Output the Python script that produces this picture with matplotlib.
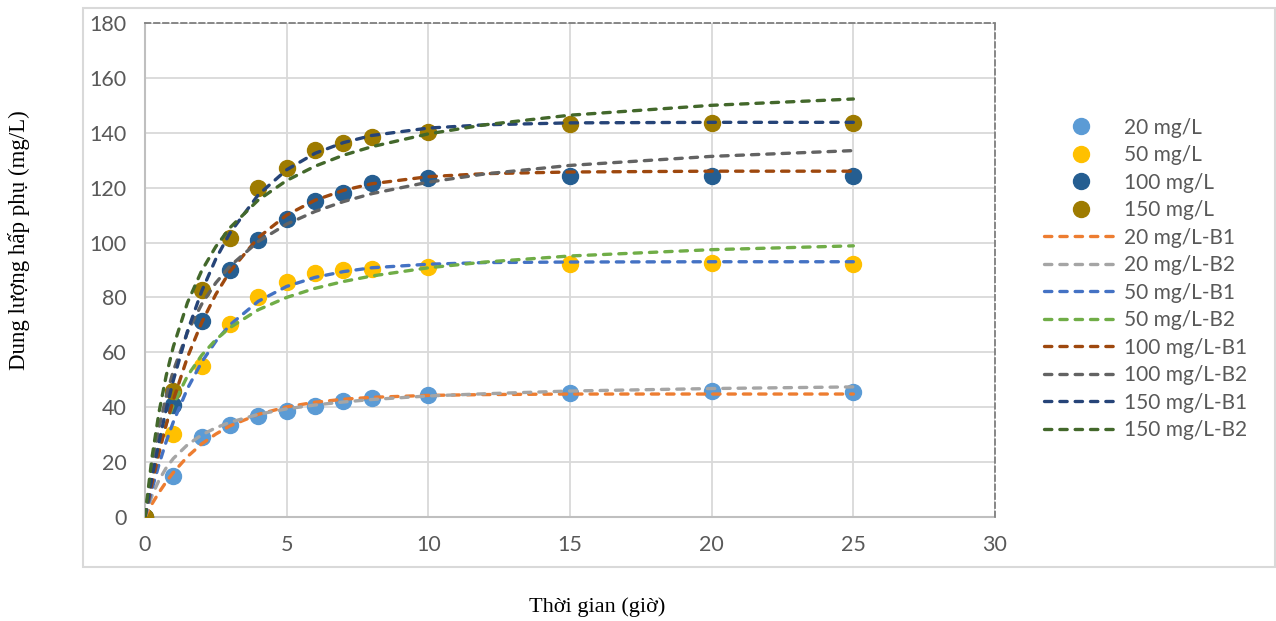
import matplotlib.pyplot as plt
from matplotlib.patches import Rectangle

# measured points
t_obs = [0, 1, 2, 3, 4, 5, 6, 7, 8, 10, 15, 20, 25]
q_20 = [0, 15.0, 29.0, 33.5, 36.8, 38.6, 40.5, 42.3, 43.4, 44.5, 45.2, 45.9, 45.6]
q_50 = [0, 30.2, 55.0, 70.3, 80.2, 85.6, 88.9, 90.0, 90.4, 91.1, 92.2, 92.6, 92.2]
q_100 = [0, 40.8, 71.4, 90.0, 101.0, 108.6, 115.2, 118.0, 121.7, 123.5, 124.3, 124.3, 124.3]
q_150 = [0, 46.0, 82.7, 101.7, 120.0, 127.2, 133.7, 136.3, 138.5, 140.3, 143.2, 143.6, 143.6]

# model curves
t_fit = [0, 0.25, 0.5, 0.75, 1, 1.5, 2, 2.5, 3, 4, 5, 6, 7, 8, 10, 12, 15, 20, 25]
b1_20 = [0, 4.8, 9.0, 12.8, 16.2, 22.0, 26.6, 30.2, 33.2, 37.4, 40.1, 41.8, 42.9, 43.6, 44.3, 44.6, 44.8, 44.8, 44.8]
b2_20 = [0, 7.8, 13.5, 17.9, 21.3, 26.3, 29.9, 32.5, 34.5, 37.4, 39.4, 40.8, 41.9, 42.8, 44.1, 44.9, 45.9, 46.8, 47.4]
b1_50 = [0, 10.2, 19.3, 27.5, 34.6, 46.8, 56.4, 64.0, 70.0, 78.6, 84.0, 87.3, 89.4, 90.8, 92.1, 92.7, 92.9, 93.0, 93.0]
b2_50 = [0, 14.5, 25.4, 34.0, 40.9, 51.4, 58.9, 64.6, 69.0, 75.5, 80.0, 83.3, 85.8, 87.8, 90.8, 92.9, 95.1, 97.4, 98.8]
b1_100 = [0, 12.3, 23.5, 33.6, 42.6, 58.2, 70.8, 81.1, 89.5, 101.8, 110.0, 115.4, 119.0, 121.4, 124.0, 125.1, 125.7, 126.0, 126.0]
b2_100 = [0, 18.5, 32.7, 44.0, 53.2, 67.3, 77.5, 85.3, 91.4, 100.4, 106.7, 111.3, 114.9, 117.8, 122.0, 125.0, 128.1, 131.4, 133.5]
b1_150 = [0, 14.5, 27.5, 39.2, 49.7, 67.7, 82.2, 94.0, 103.5, 117.4, 126.5, 132.5, 136.4, 139.0, 141.7, 142.9, 143.6, 143.8, 143.8]
b2_150 = [0, 21.8, 38.4, 51.5, 62.0, 78.1, 89.7, 98.5, 105.4, 115.5, 122.6, 127.8, 131.8, 134.9, 139.6, 142.9, 146.4, 150.0, 152.3]

obs = [("20 mg/L", q_20, "#5B9BD5"), ("50 mg/L", q_50, "#FFC000"),
       ("100 mg/L", q_100, "#255E91"), ("150 mg/L", q_150, "#9E7B00")]
fits = [("20 mg/L-B1", b1_20, "#ED7D31"), ("20 mg/L-B2", b2_20, "#A5A5A5"),
        ("50 mg/L-B1", b1_50, "#4472C4"), ("50 mg/L-B2", b2_50, "#70AD47"),
        ("100 mg/L-B1", b1_100, "#9E480E"), ("100 mg/L-B2", b2_100, "#636363"),
        ("150 mg/L-B1", b1_150, "#264478"), ("150 mg/L-B2", b2_150, "#43682B")]

plt.rcParams['font.family'] = ['Lato', 'DejaVu Sans']

fig = plt.figure(figsize=(12.76, 6.21), dpi=100)
fig.patches.append(Rectangle((0.065, 0.087), 0.934, 0.900, transform=fig.transFigure,
                             fill=False, edgecolor="#D9D9D9", linewidth=1.5))
ax = fig.add_axes([0.1136, 0.1675, 0.6662, 0.7955])

handles = []
for name, q, c in obs:
    h, = ax.plot(t_obs, q, 'o', color=c, markersize=11.5, label=name, zorder=3)
    handles.append(h)
for name, q, c in fits:
    h, = ax.plot(t_fit, q, color=c, linewidth=2.4, linestyle=(0, (2.2, 2.4)),
                 dash_capstyle='round', label=name, zorder=4)
    handles.append(h)

ax.set_xlim(0, 30)
ax.set_ylim(0, 180)
ax.set_xticks(range(0, 31, 5))
ax.set_yticks(range(0, 181, 20))
ax.grid(True, color="#D9D9D9", linewidth=1.3, zorder=0)
ax.set_axisbelow(True)
ax.tick_params(length=0, labelsize=15.5, labelcolor="#595959", pad=13)

for s in ['left', 'bottom']:
    ax.spines[s].set_color("#BFBFBF")
    ax.spines[s].set_linestyle((0, (1, 1)))
    ax.spines[s].set_linewidth(1.5)
for s in ['top', 'right']:
    ax.spines[s].set_color("#7F7F7F")
    ax.spines[s].set_linestyle((0, (3, 2)))
    ax.spines[s].set_linewidth(1.3)

fig.text(0.468, 0.022, "Thời gian (giờ)", family="Liberation Serif", fontsize=16,
         ha='center', va='center')
fig.text(0.015, 0.614, "Dung lượng hấp phụ (mg/L)", family="Liberation Serif", fontsize=16.5,
         ha='center', va='center', rotation=90)

leg = fig.legend(handles=handles, loc='upper left', bbox_to_anchor=(0.812, 0.824),
                 frameon=False, fontsize=15, handlelength=3.5, handletextpad=0.3,
                 labelspacing=0.36, borderaxespad=0, labelcolor="#595959")

fig.savefig("out.png", dpi=100)
